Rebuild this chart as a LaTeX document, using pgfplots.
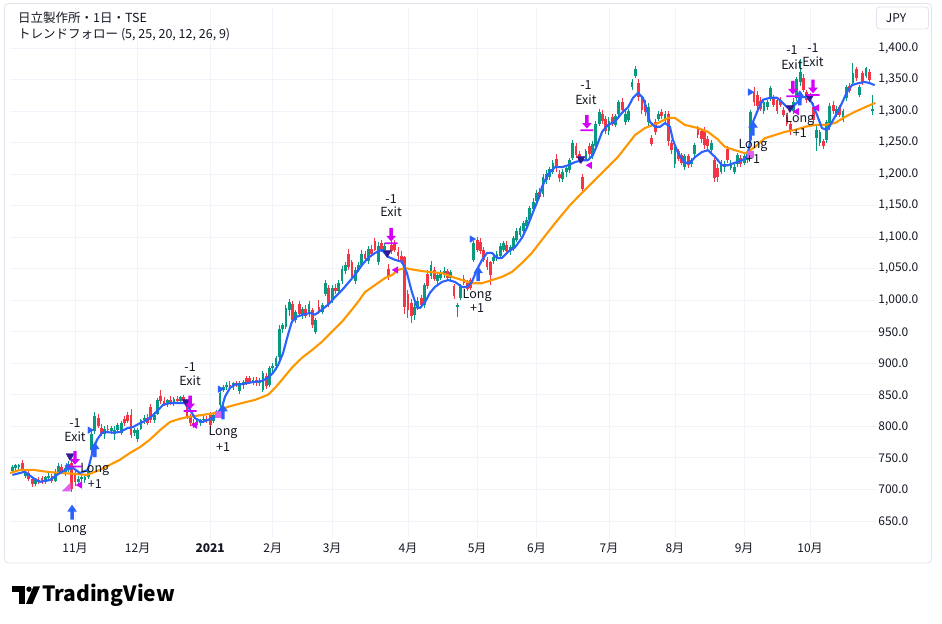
\documentclass[border=0pt]{standalone}
\usepackage{pgfplots}
\pgfplotsset{compat=1.18}
\usepackage{pgfplotstable}
\usepackage{fontspec}
\setmainfont{Noto Sans CJK JP}

\definecolor{tvgreen}{HTML}{089981}
\definecolor{tvred}{HTML}{F23645}
\definecolor{tvblue}{HTML}{2962FF}
\definecolor{tvorange}{HTML}{FF9800}
\definecolor{tvmag}{HTML}{D500F9}
\definecolor{tvpink}{HTML}{E060F0}
\definecolor{tvnavy}{HTML}{311B92}
\definecolor{tvtext}{HTML}{131722}
\definecolor{tvgrid}{HTML}{F0F3FA}
\definecolor{tvframe}{HTML}{E0E3EB}

\newcommand\lbl{\fontsize{12.5bp}{15bp}\selectfont}

% entry arrow (points up)
\pgfdeclareplotmark{longarrow}{%
  \pgfpathmoveto{\pgfqpoint{-1.7bp}{-7.5bp}}%
  \pgfpathlineto{\pgfqpoint{1.7bp}{-7.5bp}}%
  \pgfpathlineto{\pgfqpoint{1.7bp}{0.5bp}}%
  \pgfpathlineto{\pgfqpoint{4.8bp}{0.5bp}}%
  \pgfpathlineto{\pgfqpoint{0bp}{7.5bp}}%
  \pgfpathlineto{\pgfqpoint{-4.8bp}{0.5bp}}%
  \pgfpathlineto{\pgfqpoint{-1.7bp}{0.5bp}}%
  \pgfpathclose
  \pgfusepathqfill}
% exit arrow (points down onto a bar)
\pgfdeclareplotmark{exitarrow}{%
  \pgfpathmoveto{\pgfqpoint{-1.7bp}{8bp}}%
  \pgfpathlineto{\pgfqpoint{1.7bp}{8bp}}%
  \pgfpathlineto{\pgfqpoint{1.7bp}{0bp}}%
  \pgfpathlineto{\pgfqpoint{4.8bp}{0bp}}%
  \pgfpathlineto{\pgfqpoint{0bp}{-5.5bp}}%
  \pgfpathlineto{\pgfqpoint{-4.8bp}{0bp}}%
  \pgfpathlineto{\pgfqpoint{-1.7bp}{0bp}}%
  \pgfpathclose
  \pgfpathrectangle{\pgfqpoint{-6.5bp}{-8.2bp}}{\pgfqpoint{13bp}{1.8bp}}%
  \pgfusepathqfill}
% right-angle entry flag
\pgfdeclareplotmark{entryflag}{%
  \pgfpathmoveto{\pgfqpoint{-4.5bp}{-4.5bp}}%
  \pgfpathlineto{\pgfqpoint{4.5bp}{-4.5bp}}%
  \pgfpathlineto{\pgfqpoint{4.5bp}{4.5bp}}%
  \pgfpathclose
  \pgfusepathqfill}

% daily candles, rising sessions: index open high low close
\pgfplotstableread{
i o h l c
0 730 738 727 736
1 734 740 730 738
2 736 741 731 739
4 721 730 718 727
7 708 718 705 715
10 712 722 708 719
11 718 726 714 722
13 714 732 712 728
14 728 742 725 737
16 727 738 722 734
17 734 745 728 740
20 712 722 706 716
21 716 724 712 720
22 715 722 710 719
23 720 732 717 729
24 762 792 758 788
25 792 822 788 816
28 788 800 780 796
30 793 800 788 797
31 788 800 778 795
32 795 805 790 802
33 790 808 786 805
37 790 798 784 795
38 780 798 776 794
39 796 812 794 810
40 810 818 804 814
43 810 822 806 818
44 820 845 818 842
47 836 844 830 842
49 838 846 832 844
51 840 848 836 846
56 802 810 798 808
57 806 812 800 810
58 810 816 806 812
61 808 820 806 818
62 818 826 814 824
63 834 856 830 853
64 858 866 854 862
65 862 870 858 866
67 864 870 858 868
69 856 872 852 869
70 866 874 860 870
73 870 878 866 874
75 868 876 864 872
76 858 888 854 884
78 866 896 862 892
79 892 900 885 896
80 896 912 890 908
81 910 960 906 954
82 954 964 948 960
83 958 992 954 988
84 984 1002 975 997
86 968 985 964 982
88 978 990 970 986
90 978 998 974 994
92 950 972 946 968
94 982 996 978 992
95 1010 1032 1006 1028
97 1000 1024 996 1020
99 1014 1032 1010 1028
100 1030 1054 1026 1050
101 1046 1060 1042 1056
104 1030 1052 1026 1048
105 1048 1060 1044 1056
106 1056 1080 1052 1074
108 1062 1086 1058 1082
111 1060 1092 1056 1086
113 1080 1090 1074 1086
122 976 995 968 990
123 990 1005 985 998
125 992 1028 988 1024
127 1038 1062 1034 1056
129 1030 1044 1026 1040
130 1036 1048 1032 1044
131 1040 1052 1036 1046
133 1036 1048 1030 1044
135 990 996 974 993
136 1004 1026 1000 1022
140 1064 1094 1060 1090
146 1062 1072 1058 1068
147 1066 1078 1062 1074
148 1070 1090 1066 1086
149 1080 1094 1076 1090
151 1078 1088 1072 1084
152 1082 1102 1078 1098
153 1096 1114 1092 1110
154 1104 1118 1100 1114
155 1110 1126 1106 1122
156 1118 1132 1112 1128
157 1128 1150 1124 1146
158 1144 1162 1140 1156
159 1158 1174 1150 1170
161 1168 1200 1164 1196
162 1190 1206 1184 1200
163 1196 1212 1190 1208
164 1204 1222 1200 1218
167 1192 1208 1188 1204
168 1204 1214 1196 1210
169 1206 1226 1202 1222
170 1226 1254 1222 1250
174 1224 1240 1220 1236
176 1228 1252 1224 1248
177 1244 1284 1240 1280
178 1280 1304 1276 1298
181 1268 1290 1262 1284
183 1278 1296 1274 1292
184 1296 1318 1292 1314
186 1282 1300 1278 1296
187 1286 1304 1282 1300
188 1338 1350 1334 1346
189 1356 1372 1352 1366
193 1282 1312 1276 1306
196 1288 1300 1284 1296
198 1288 1300 1282 1296
201 1216 1248 1210 1242
204 1212 1232 1206 1228
206 1216 1226 1212 1222
207 1232 1250 1228 1246
212 1238 1254 1234 1250
215 1204 1222 1200 1216
216 1212 1220 1204 1216
218 1210 1222 1206 1218
219 1204 1216 1200 1212
220 1216 1234 1212 1230
222 1218 1232 1214 1228
223 1222 1236 1218 1232
224 1254 1302 1250 1298
228 1300 1318 1296 1314
229 1306 1318 1302 1314
230 1320 1340 1316 1336
237 1300 1320 1296 1314
238 1320 1354 1316 1350
239 1346 1382 1340 1362
244 1258 1280 1236 1270
245 1250 1270 1244 1266
247 1254 1286 1250 1282
248 1274 1312 1270 1308
250 1294 1308 1290 1304
252 1286 1304 1282 1300
253 1320 1342 1316 1338
255 1344 1376 1340 1360
257 1326 1342 1322 1338
259 1356 1370 1352 1368
261 1300 1326 1294 1304
}\upbars

% daily candles, falling sessions
\pgfplotstableread{
i o h l c
3 742 746 728 731
5 726 730 714 716
6 716 720 704 708
8 715 720 708 711
9 718 722 709 712
12 722 725 710 713
15 736 740 724 727
18 742 748 696 700
19 724 730 706 712
26 814 820 798 801
27 798 803 784 788
29 796 802 790 794
34 812 816 800 806
35 818 822 805 808
36 818 828 782 786
41 814 820 802 806
42 830 836 806 810
45 848 858 836 840
46 840 846 832 836
48 842 848 834 838
50 844 848 836 840
52 846 850 838 842
53 838 842 812 815
54 816 820 800 805
55 806 812 798 802
59 812 816 806 808
60 818 822 798 802
66 866 872 860 864
68 868 872 862 865
71 877 880 866 869
72 876 880 868 870
74 874 878 864 868
77 880 884 860 864
85 994 998 964 968
87 994 998 975 978
89 986 992 972 975
91 984 988 956 960
93 990 1000 978 982
96 1020 1024 990 994
98 1020 1026 1010 1014
102 1074 1082 1048 1052
103 1060 1064 1032 1036
107 1074 1078 1062 1066
109 1082 1088 1070 1074
110 1094 1098 1078 1080
112 1090 1096 1076 1080
114 1050 1058 1032 1038
115 1088 1094 1074 1078
116 1090 1096 1076 1080
117 1076 1084 1064 1070
118 1070 1078 1058 1062
119 1068 1070 978 990
120 1010 1016 972 985
121 995 1002 964 975
124 1004 1008 988 992
126 1042 1048 1018 1022
128 1048 1052 1030 1034
132 1046 1050 1032 1036
134 1022 1026 1002 1006
137 1034 1040 1024 1028
138 1028 1032 1014 1018
139 1032 1036 1016 1020
141 1096 1100 1076 1080
142 1092 1098 1074 1078
143 1080 1084 1060 1064
144 1064 1068 1048 1052
145 1060 1062 1024 1040
150 1088 1094 1074 1078
160 1172 1178 1160 1164
165 1224 1232 1204 1210
166 1200 1206 1188 1194
171 1244 1250 1226 1230
172 1232 1236 1218 1222
173 1196 1200 1170 1176
175 1244 1250 1226 1232
179 1296 1302 1280 1284
180 1288 1292 1264 1268
182 1290 1296 1276 1280
185 1314 1320 1300 1302
190 1345 1350 1316 1322
191 1320 1326 1296 1302
192 1310 1318 1292 1298
194 1258 1262 1244 1248
195 1282 1288 1262 1266
197 1298 1304 1288 1292
199 1296 1300 1244 1252
200 1250 1254 1232 1238
202 1236 1240 1220 1224
203 1230 1234 1214 1218
205 1228 1232 1210 1214
208 1272 1276 1258 1262
209 1268 1272 1250 1256
210 1270 1274 1240 1246
211 1256 1260 1238 1244
213 1222 1226 1188 1194
214 1210 1216 1188 1196
217 1240 1244 1218 1222
221 1226 1230 1212 1216
225 1330 1338 1308 1314
226 1326 1332 1304 1308
227 1316 1322 1300 1304
231 1320 1326 1306 1310
232 1318 1322 1296 1300
233 1318 1322 1306 1310
234 1302 1306 1290 1294
235 1290 1294 1276 1280
236 1280 1284 1262 1268
240 1352 1358 1330 1334
241 1330 1334 1312 1318
242 1324 1328 1314 1318
243 1306 1312 1282 1286
246 1252 1256 1240 1244
249 1310 1316 1296 1300
251 1306 1310 1290 1294
254 1340 1344 1328 1332
256 1366 1370 1348 1352
258 1360 1364 1342 1346
260 1362 1366 1346 1349
}\dnbars

% fast average (blue)
\pgfplotstableread{
i v
0 723
3.8 728
6.3 718
8.4 712
11.4 715
13.5 723
16 731
18.4 734
20.5 726
22.9 731
24.5 763
25.7 779
27.2 790
28.7 791
30.5 790
32.6 791
34.8 797
36.6 799
38.7 805
40.8 810
42.7 818
44.2 826
45.7 834
47.8 837
50.8 837
52.4 837
53.9 826
55.4 813
57.5 807
59.3 810
61.5 815
63.6 831
64.5 847
66 861
67.5 866
69.7 867
72.7 870
75.7 872
77.5 877
79.1 885
80.6 897
82.1 916
83.6 945
84.8 966
86.3 974
88.2 977
90.3 980
91.8 977
93.9 985
95.8 993
97.9 1005
100 1016
101.8 1027
103.9 1040
106.1 1056
107.9 1067
110 1075
112.1 1080
113.9 1069
116.1 1064
118.2 1061
119.7 1043
121.2 1013
122.8 988
123.7 988
125.2 997
126.7 1012
128.2 1021
130.3 1029
132.2 1032
134.3 1029
136.4 1021
137.9 1021
139.4 1029
140.9 1048
142.5 1064
144 1075
145.5 1075
147 1067
148.5 1067
150.4 1077
152.5 1084
154.6 1099
156.1 1115
157.6 1135
159.5 1160
160.7 1180
162.5 1200
164.6 1211
166.8 1211
168.6 1214
170.7 1219
172.8 1222
174.6 1222
176.1 1230
177.4 1246
178.9 1267
180.7 1278
182.8 1283
184.9 1297
186.8 1306
188.3 1321
189.8 1329
191.3 1321
192.5 1302
193.4 1283
194.9 1275
196.5 1275
198 1281
199.5 1275
200.4 1254
202 1233
204 1218
205.6 1218
207.1 1227
209.2 1235
211 1238
213.2 1227
215.3 1214
217.1 1214
219.2 1218
221.4 1222
222.9 1227
223.8 1251
224.7 1283
226.2 1302
227.7 1318
229.9 1321
232 1321
233.5 1314
235 1306
236.5 1305
238 1313
239.5 1322
241 1322
242.6 1313
244.1 1294
245.6 1273
247.2 1270
248.7 1283
250.2 1297
251.7 1313
253.2 1330
254.7 1341
256.5 1344
258.7 1346
260.2 1344
261.6 1341
}\fastline

% slow average (orange)
\pgfplotstableread{
i v
-0.7 726
2.3 731
6.3 731
10.5 728
14.4 726
18.4 725
22.6 723
26.6 731
29.6 739
32.6 747
35.7 758
38.7 767
41.7 779
44.8 794
47.8 807
50.8 812
53.3 815
57.5 818
61.5 821
65.4 831
69.7 837
73.6 842
77.5 850
79.7 861
81.8 874
84.8 893
87.9 909
90.9 921
93.9 934
96.9 950
100 966
103 985
104.5 995
107 1013
110 1024
113 1035
115.2 1040
117 1048
119.1 1051
122.1 1048
126.1 1045
130.3 1043
133.4 1037
136.4 1032
139.4 1027
142.5 1027
145.5 1032
148.5 1037
151.6 1045
154.6 1059
157.6 1075
160.1 1092
164.6 1122
169.2 1151
173.7 1175
178.9 1202
183.7 1227
188.9 1262
191.9 1273
195.9 1281
198.9 1289
201 1289
204 1278
208 1273
211 1267
213.8 1256
216.2 1243
219.2 1238
222.3 1233
225.3 1243
228.3 1257
231.4 1262
234.4 1267
237.4 1270
240.5 1275
243.6 1278
246.6 1278
249.6 1281
252.7 1291
255.7 1299
258.7 1306
261.8 1313
}\slowline

\begin{document}
\begin{tikzpicture}[x=1bp,y=1bp]
\useasboundingbox (0,0) rectangle (942,624);
\fill[white] (0,0) rectangle (942,624);
\draw[tvframe, line width=0.8bp, rounded corners=4bp] (4.5,61) rectangle (931.5,620.5);

\begin{axis}[
  at={(10bp,86bp)}, anchor=south west,
  x=3.296bp, y=0.63067bp,
  xmin=-0.73, xmax=261.9, ymin=623, ymax=1463.4,
  axis line style={draw=none},
  tick style={draw=none},
  major tick length=0pt,
  clip mode=individual,
  grid=major,
  major grid style={draw=tvgrid, line width=0.8bp},
  xtick={19,38,60,79,97,120,141,159,181,201,222,242},
  xticklabels={11月,12月,{\bfseries 2021},2月,3月,4月,5月,6月,7月,8月,9月,10月},
  ytick={650,700,...,1400},
  yticklabel pos=right,
  yticklabel style={anchor=west, inner sep=0pt, xshift=2.5bp,
    /pgf/number format/fixed, /pgf/number format/fixed zerofill,
    /pgf/number format/precision=1, /pgf/number format/1000 sep={,},
    /pgf/number format/assume math mode=true},
  xticklabel style={anchor=north, inner sep=0pt, yshift=-5bp},
  tick label style={font=\fontsize{12bp}{14bp}\selectfont, text=tvtext},
]

% wicks and bodies
\addplot[draw=none, mark=none, forget plot,
  error bars/.cd, y dir=both, y explicit, error mark=none,
  error bar style={draw=tvgreen, line width=1bp}]
  table[x=i, y=c, y error plus expr=\thisrow{h}-\thisrow{c}, y error minus expr=\thisrow{c}-\thisrow{l}] {\upbars};
\addplot[draw=none, mark=none, forget plot,
  error bars/.cd, y dir=both, y explicit, error mark=none,
  error bar style={draw=tvgreen, line width=2.8bp, line cap=butt}]
  table[x=i, y=c, y error plus expr=0, y error minus expr=\thisrow{c}-\thisrow{o}] {\upbars};
\addplot[draw=none, mark=none, forget plot,
  error bars/.cd, y dir=both, y explicit, error mark=none,
  error bar style={draw=tvred, line width=1bp}]
  table[x=i, y=c, y error plus expr=\thisrow{h}-\thisrow{c}, y error minus expr=\thisrow{c}-\thisrow{l}] {\dnbars};
\addplot[draw=none, mark=none, forget plot,
  error bars/.cd, y dir=both, y explicit, error mark=none,
  error bar style={draw=tvred, line width=2.8bp, line cap=butt}]
  table[x=i, y=c, y error plus expr=\thisrow{o}-\thisrow{c}, y error minus expr=0] {\dnbars};

% averages
\addplot[tvorange, line width=2.1bp, line join=round, mark=none] table[x=i, y=v] {\slowline};
\addplot[tvblue, line width=2.1bp, line join=round, mark=none] table[x=i, y=v] {\fastline};

% signal markers
\addplot[only marks, mark=triangle*, mark size=4.6bp, tvnavy,
  mark options={rotate=180, fill=tvnavy, draw=tvnavy}]
  coordinates {(17.5,753) (52.7,839) (113.7,1075) (172.5,1224) (235.9,1305) (241.9,1322)};
\addplot[only marks, mark=triangle*, mark size=3.8bp, tvblue,
  mark options={rotate=-90, fill=tvblue, draw=tvblue}]
  coordinates {(16.9,736) (23.5,794) (63,859) (139.4,1097) (223.8,1330)};
\addplot[only marks, mark=triangle*, mark size=3.8bp, tvmag,
  mark options={rotate=90, fill=tvmag, draw=tvmag}]
  coordinates {(20.5,707) (55.4,802) (116.4,1048) (175.2,1214) (238,1299) (244.1,1305)};
\addplot[only marks, mark=entryflag, tvpink, mark options={fill=tvpink}]
  coordinates {(16.3,704)};
\addplot[only marks, mark=square*, mark size=3bp, tvpink, mark options={fill=tvpink, draw=tvpink}]
  coordinates {(62.4,820) (223.8,1232)};
\addplot[only marks, mark=entryflag, tvpink, mark options={fill=white, draw=tvpink, line width=1bp}]
  coordinates {(138.8,1050)};
\addplot[only marks, mark=longarrow, tvblue, mark options={fill=tvblue}]
  coordinates {(18.1,664) (25,763) (63.9,823) (141.3,1042) (224.7,1273) (238.9,1321)};
\addplot[only marks, mark=exitarrow, tvmag, mark options={fill=tvmag}]
  coordinates {(19,748) (53.9,836) (114.9,1102) (174.3,1281) (236.8,1335) (242.9,1337)};

% signal captions
\begin{scope}[every node/.style={font=\lbl, text=tvtext, inner sep=0pt}]
\node at (axis cs:19,805) {-1};
\node at (axis cs:19,783) {Exit};
\node at (axis cs:18.1,636) {Long};
\node at (axis cs:25,731) {Long};
\node at (axis cs:25,709) {+1};
\node at (axis cs:53.9,894) {-1};
\node at (axis cs:53.9,872) {Exit};
\node at (axis cs:63.9,790) {Long};
\node at (axis cs:63.9,767) {+1};
\node at (axis cs:114.9,1161) {-1};
\node at (axis cs:114.9,1140) {Exit};
\node at (axis cs:141,1008) {Long};
\node at (axis cs:141,988) {+1};
\node at (axis cs:174,1341) {-1};
\node at (axis cs:174,1318) {Exit};
\node at (axis cs:224.7,1245) {Long};
\node at (axis cs:224.7,1224) {+1};
\node at (axis cs:236.5,1397) {-1};
\node at (axis cs:236.5,1374) {Exit};
\node at (axis cs:238.9,1286) {Long};
\node at (axis cs:238.9,1265) {+1};
\node at (axis cs:242.9,1400) {-1};
\node at (axis cs:242.9,1378) {Exit};
\end{scope}
\end{axis}

% header
\node[anchor=west, inner sep=0pt, font=\fontsize{12.5bp}{15bp}\selectfont, text=tvtext] at (18,606) {日立製作所・1日・TSE};
\node[anchor=west, inner sep=0pt, font=\fontsize{12.5bp}{15bp}\selectfont, text=tvtext] at (18,589) {トレンドフォロー (5, 25, 20, 12, 26, 9)};

% currency box
\draw[tvframe, line width=0.8bp, rounded corners=3bp, fill=white] (876.5,595) rectangle (928.5,617);
\node[inner sep=0pt, font=\fontsize{12bp}{14bp}\selectfont, text=tvtext] at (896,606) {JPY};

% brand mark
\fill[black] (12,37.5) rectangle (24.5,31.5);
\fill[black] (18.5,31.5) rectangle (24.5,20);
\fill[black] (29,34.8) circle (2.7);
\fill[black] (33.5,37.5) -- (40,37.5) -- (32.5,20) -- (26,20) -- cycle;
\node[anchor=west, inner sep=0pt, font=\fontsize{21bp}{24bp}\selectfont\bfseries, text=black] at (42,28.5) {TradingView};
\end{tikzpicture}
\end{document}
